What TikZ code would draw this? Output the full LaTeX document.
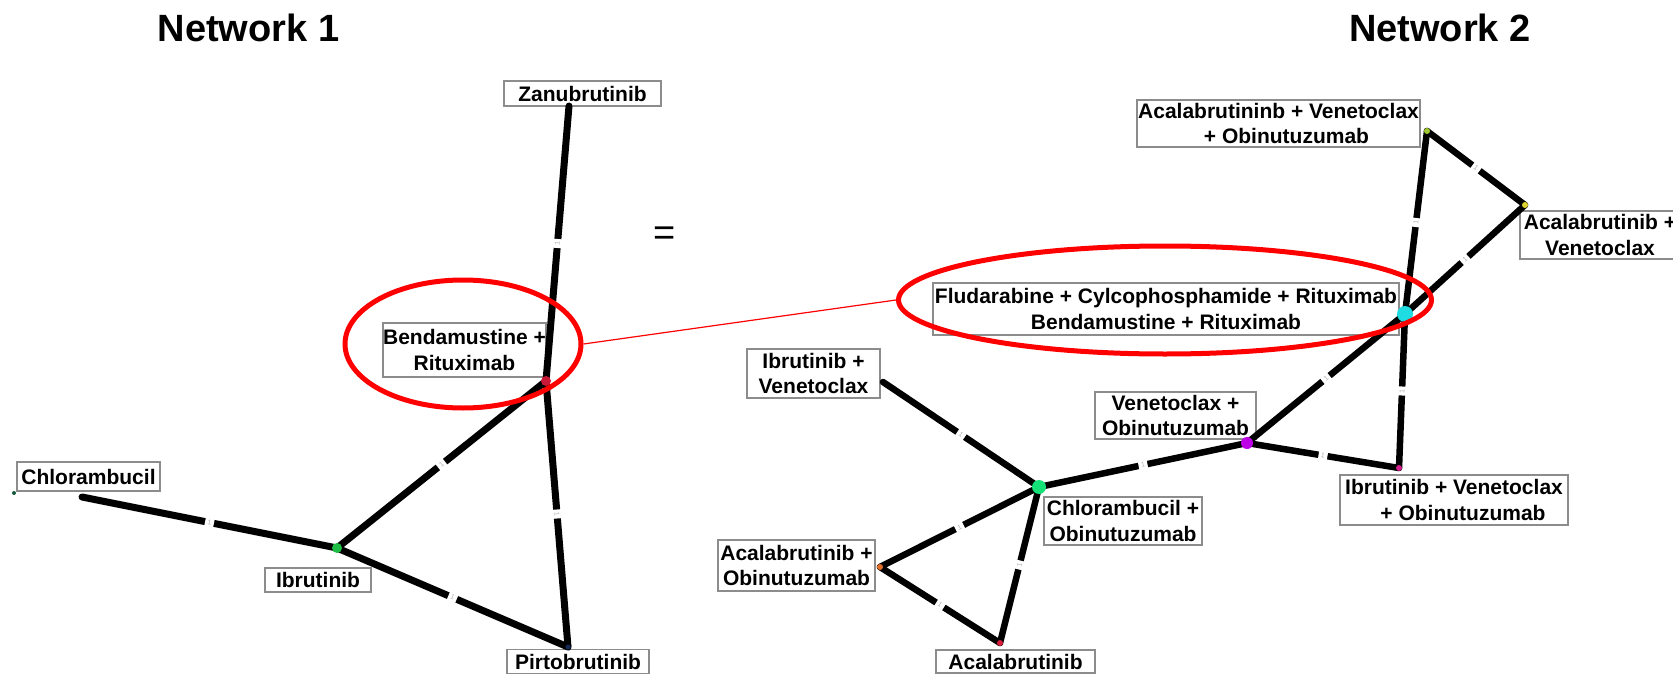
\documentclass[tikz,border=0pt]{standalone}
\usepackage{fontspec}
\setmainfont{Liberation Sans}
\usetikzlibrary{shapes.geometric}
\definecolor{cBend}{RGB}{200,25,55}
\definecolor{cIbr}{RGB}{30,190,70}
\definecolor{cChl}{RGB}{20,90,60}
\definecolor{cPir}{RGB}{20,40,90}
\definecolor{cCyan}{RGB}{30,220,225}
\definecolor{cMag}{RGB}{190,0,230}
\definecolor{cGrn}{RGB}{20,225,120}
\definecolor{cIVO}{RGB}{210,30,140}
\definecolor{cAO}{RGB}{225,110,40}
\definecolor{cAca}{RGB}{215,30,60}
\definecolor{cAVO}{RGB}{160,200,50}
\definecolor{cAV}{RGB}{220,210,50}
\definecolor{boxgray}{RGB}{140,140,140}
\tikzset{
  lbl/.style={draw=boxgray, line width=1.2pt, fill=white, inner sep=0pt, align=center,
    font=\fontsize{21}{25.5}\selectfont\bfseries},
  edgeA/.style={line width=7pt, black, line cap=round},
  edgeB/.style={line width=6.5pt, black, line cap=round},
  gap/.style={fill=white, inner sep=0pt, minimum width=9pt, minimum height=10pt, sloped,
    font=\fontsize{7}{7}\selectfont, text=gray!60},
  dot/.style={circle, inner sep=0pt, draw=none},
  ring/.style={ellipse, draw=red, line width=5pt, inner sep=0pt},
  title/.style={font=\fontsize{38}{40}\selectfont\bfseries, anchor=base, inner sep=0pt},
}
\begin{document}
\begin{tikzpicture}[x=1pt,y=-1pt]
\fill[white] (0,0) rectangle (1673,674);
\useasboundingbox (0,0) rectangle (1673,674);

% titles
\node[title] (t1) at (248.5,42) {Network 1};
\node[title] (t2) at (1440,42) {Network 2};
\node[font=\fontsize{38}{40}\selectfont, inner sep=0pt] (eq) at (665,236) {=};

% ---------- Network 1 points ----------
\coordinate (zanp) at (569,106);
\coordinate (bendp) at (546,381);
\coordinate (chlp) at (82,497);
\coordinate (chldot) at (14,493);
\coordinate (ibrp) at (337,548);
\coordinate (pirp) at (568,647);

% ---------- Network 2 points ----------
\coordinate (cyp) at (1405,314);
\coordinate (vop) at (1247,443);
\coordinate (ivop) at (1399,468);
\coordinate (cop) at (1039,487);
\coordinate (ivp) at (883,382);
\coordinate (aop) at (880,567);
\coordinate (acap) at (1000,643);
\coordinate (avop) at (1427,131);
\coordinate (avp) at (1525,205);

% labels network 1
\node[lbl, minimum width=157, minimum height=25] (zan) at (582.5,93.5) {Zanubrutinib};
\node[lbl, minimum width=163, minimum height=54] (bend) at (464.5,350) {Bendamustine +\\Rituximab};
\node[lbl, minimum width=143, minimum height=29] (chl) at (88.5,476.5) {Chlorambucil};
\node[lbl, minimum width=106, minimum height=24] (ibr) at (318,580) {Ibrutinib};
\node[lbl, minimum width=142, minimum height=24] (pir) at (578,661.5) {Pirtobrutinib};

% labels network 2
\node[lbl, minimum width=283, minimum height=47] (avo) at (1278.5,123.5) {Acalabrutininb + Venetoclax\\\hspace*{16pt}+ Obinutuzumab};
\node[lbl, minimum width=160, minimum height=48] (av) at (1600,235) {Acalabrutinib +\\Venetoclax};
\node[lbl, minimum width=466, minimum height=52] (fcr) at (1166,309) {Fludarabine + Cylcophosphamide + Rituximab\\Bendamustine + Rituximab};
\node[lbl, minimum width=133, minimum height=49] (iv) at (813.5,373.5) {Ibrutinib +\\Venetoclax};
\node[lbl, minimum width=161, minimum height=47] (vo) at (1175.5,415.5) {Venetoclax +\\Obinutuzumab};
\node[lbl, minimum width=228, minimum height=50] (ivo) at (1454,500) {Ibrutinib + Venetoclax\\\hspace*{18pt}+ Obinutuzumab};
\node[lbl, minimum width=158, minimum height=48] (co) at (1123,521) {Chlorambucil +\\Obinutuzumab};
\node[lbl, minimum width=157, minimum height=51] (ao) at (796.5,565.5) {Acalabrutinib +\\Obinutuzumab};
\node[lbl, minimum width=159, minimum height=23] (aca) at (1015.5,661.5) {Acalabrutinib};

% edges network 1
\draw[edgeA] (zanp) -- node[gap]{1} (bendp);
\draw[edgeA] (chlp) -- node[gap]{1} (ibrp);
\draw[edgeA] (ibrp) -- node[gap]{1} (bendp);
\draw[edgeA] (ibrp) -- node[gap]{1} (pirp);
\draw[edgeA] (bendp) -- node[gap]{1} (pirp);

% edges network 2
\draw[edgeB] (avop) -- node[gap]{1} (avp);
\draw[edgeB] (avp) -- node[gap]{1} (cyp);
\draw[edgeB] (avop) -- node[gap]{1} (cyp);
\draw[edgeB] (cyp) -- node[gap]{1} (ivop);
\draw[edgeB] (vop) -- node[gap]{1} (cyp);
\draw[edgeB] (vop) -- node[gap]{1} (ivop);
\draw[edgeB] (cop) -- node[gap]{1} (vop);
\draw[edgeB] (ivp) -- node[gap]{1} (cop);
\draw[edgeB] (aop) -- node[gap]{1} (cop);
\draw[edgeB] (aop) -- node[gap]{1} (acap);
\draw[edgeB] (cop) -- node[gap]{1} (acap);

% dots
\node[dot, fill=cBend, minimum size=10] (bendd) at (bendp) {};
\node[dot, fill=cIbr, minimum size=10] (ibrd) at (ibrp) {};
\node[dot, fill=cChl, minimum size=4] (chld) at (chldot) {};
\node[dot, fill=cPir, minimum size=5] (pird) at (pirp) {};
\node[dot, fill=cCyan, minimum size=16] (cyd) at (cyp) {};
\node[dot, fill=cMag, minimum size=12] (vod) at (vop) {};
\node[dot, fill=cGrn, minimum size=14] (cod) at (cop) {};
\node[dot, fill=cIVO, minimum size=6] (ivod) at (ivop) {};
\node[dot, fill=cAO, minimum size=6] (aod) at (aop) {};
\node[dot, fill=cAca, minimum size=6] (acad) at (acap) {};
\node[dot, fill=cAVO, minimum size=6] (avod) at (avop) {};
\node[dot, fill=cAV, minimum size=6] (avd) at (avp) {};

% highlight rings
\node[ring, minimum width=236, minimum height=128] (ring1) at (463,344) {};
\node[ring, minimum width=533, minimum height=108] (ring2) at (1165,300) {};
\draw[red, line width=1.2pt] (ring1.east) -- (ring2.west);
\end{tikzpicture}
\end{document}
